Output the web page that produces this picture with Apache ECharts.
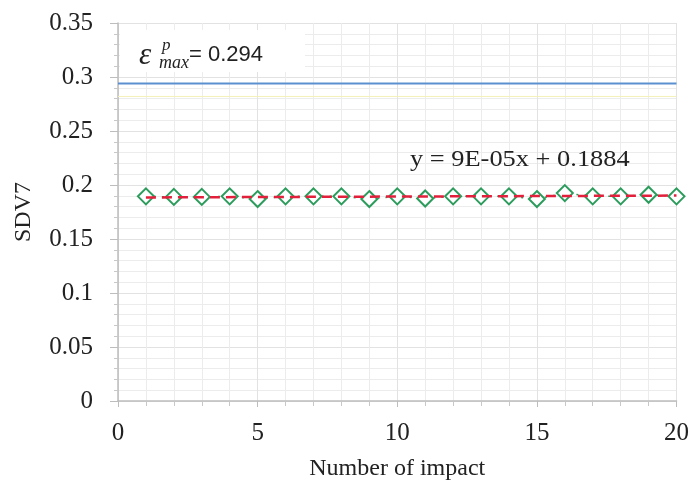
<!DOCTYPE html>
<html>
<head>
<meta charset="utf-8">
<script src="https://cdn.jsdelivr.net/npm/echarts@6/dist/echarts.min.js"></script>
<style>
  html, body { margin: 0; padding: 0; background: #fff; }
  #chart { width: 692px; height: 486px; }
</style>
</head>
<body>
<div id="chart"></div>
<script>
// impact number and measured SDV7
var impacts = [1, 2, 3, 4, 5, 6, 7, 8, 9, 10, 11, 12, 13, 14, 15, 16, 17, 18, 19, 20];
var sdv7 = [0.1895, 0.189, 0.189, 0.1895, 0.187, 0.1895, 0.1895, 0.1895, 0.187, 0.1895,
            0.1875, 0.1895, 0.1895, 0.1895, 0.187, 0.1925, 0.1895, 0.1895, 0.191, 0.1895];
// linear fit y = 9E-05x + 0.1884, drawn between first and last impact
var trendX = [1, 20];
var trendY = [0.18849, 0.19020];
// max plastic strain level
var epsMaxX = [0, 20];
var epsMaxY = [0.294, 0.294];
var faintX = [0, 20];
var faintY = [0.282, 0.282];

var serif = '"Liberation Serif", "Times New Roman", serif';
var sans = '"Liberation Sans", Arial, sans-serif';

var myChart = echarts.init(document.getElementById('chart'));
var option = {
  backgroundColor: '#fff',
  animation: false,
  grid: { left: 118, right: 13, top: 23, bottom: 82 },
  xAxis: {
    type: 'value',
    min: 0,
    max: 20,
    interval: 5,
    name: 'Number of impact',
    nameLocation: 'middle',
    nameGap: 56,
    nameTextStyle: { fontFamily: serif, fontSize: 24, color: '#222' },
    axisLine: { lineStyle: { color: '#bdbdbd', width: 1.5 } },
    axisTick: { show: true, length: 6, lineStyle: { color: '#bdbdbd' } },
    minorTick: { show: true, splitNumber: 5, length: 5, lineStyle: { color: '#c8c8c8' } },
    axisLabel: { fontFamily: serif, fontSize: 25, color: '#222', margin: 20 },
    splitLine: { show: true, lineStyle: { color: '#e2e2e2' } },
    minorSplitLine: { show: true, lineStyle: { color: '#ececec' } }
  },
  yAxis: {
    type: 'value',
    min: 0,
    max: 0.35,
    interval: 0.05,
    name: 'SDV7',
    nameLocation: 'middle',
    nameGap: 82,
    nameTextStyle: { fontFamily: serif, fontSize: 24, color: '#222' },
    axisLine: { show: true, lineStyle: { color: '#bdbdbd', width: 1.5 } },
    axisTick: { show: true, length: 8, lineStyle: { color: '#bdbdbd' } },
    minorTick: { show: true, splitNumber: 5, length: 4, lineStyle: { color: '#c8c8c8' } },
    axisLabel: { fontFamily: serif, fontSize: 25, color: '#222', margin: 25 },
    splitLine: { show: true, lineStyle: { color: '#e2e2e2' } },
    minorSplitLine: { show: true, lineStyle: { color: '#ececec' } }
  },
  graphic: [
    { type: 'rect', left: 120, top: 30, shape: { width: 185, height: 42 }, style: { fill: '#fff' }, z: 1 },
    { type: 'text', left: 139, top: 40, style: { text: 'ε', font: 'italic 31px ' + serif, fill: '#222' }, z: 10 },
    { type: 'text', left: 162, top: 37, style: { text: 'p', font: 'italic 17px ' + serif, fill: '#222' }, z: 10 },
    { type: 'text', left: 159, top: 54, style: { text: 'max', font: 'italic 18px ' + serif, fill: '#222' }, z: 10 },
    { type: 'text', left: 189, top: 44, style: { text: '= 0.294', font: '22px ' + sans, fill: '#222' }, z: 10 },
    { type: 'text', left: 410, top: 148, scaleX: 1.1, style: { text: 'y = 9E-05x + 0.1884', font: '24px ' + serif, fill: '#222' }, z: 10 }
  ],
  series: [
    {
      name: 'faint',
      type: 'line',
      data: faintX.map(function (x, i) { return [x, faintY[i]]; }),
      symbol: 'none',
      lineStyle: { color: '#f4f1b8', width: 1 },
      z: 2
    },
    {
      name: 'eps max',
      type: 'line',
      data: epsMaxX.map(function (x, i) { return [x, epsMaxY[i]]; }),
      symbol: 'none',
      lineStyle: { color: '#5b8fd0', width: 2 },
      z: 3
    },
    {
      name: 'SDV7',
      type: 'line',
      data: impacts.map(function (x, i) { return [x, sdv7[i]]; }),
      symbol: 'emptyDiamond',
      symbolSize: 16,
      itemStyle: { color: '#2c9c5c', borderWidth: 2 },
      lineStyle: { color: '#2c9c5c', width: 1.5, type: [2, 6] },
      z: 4
    },
    {
      name: 'Linear',
      type: 'line',
      data: trendX.map(function (x, i) { return [x, trendY[i]]; }),
      symbol: 'none',
      lineStyle: { color: '#e2203c', width: 2.5, type: [10, 6] },
      z: 5
    }
  ]
};
myChart.setOption(option);
</script>
</body>
</html>
